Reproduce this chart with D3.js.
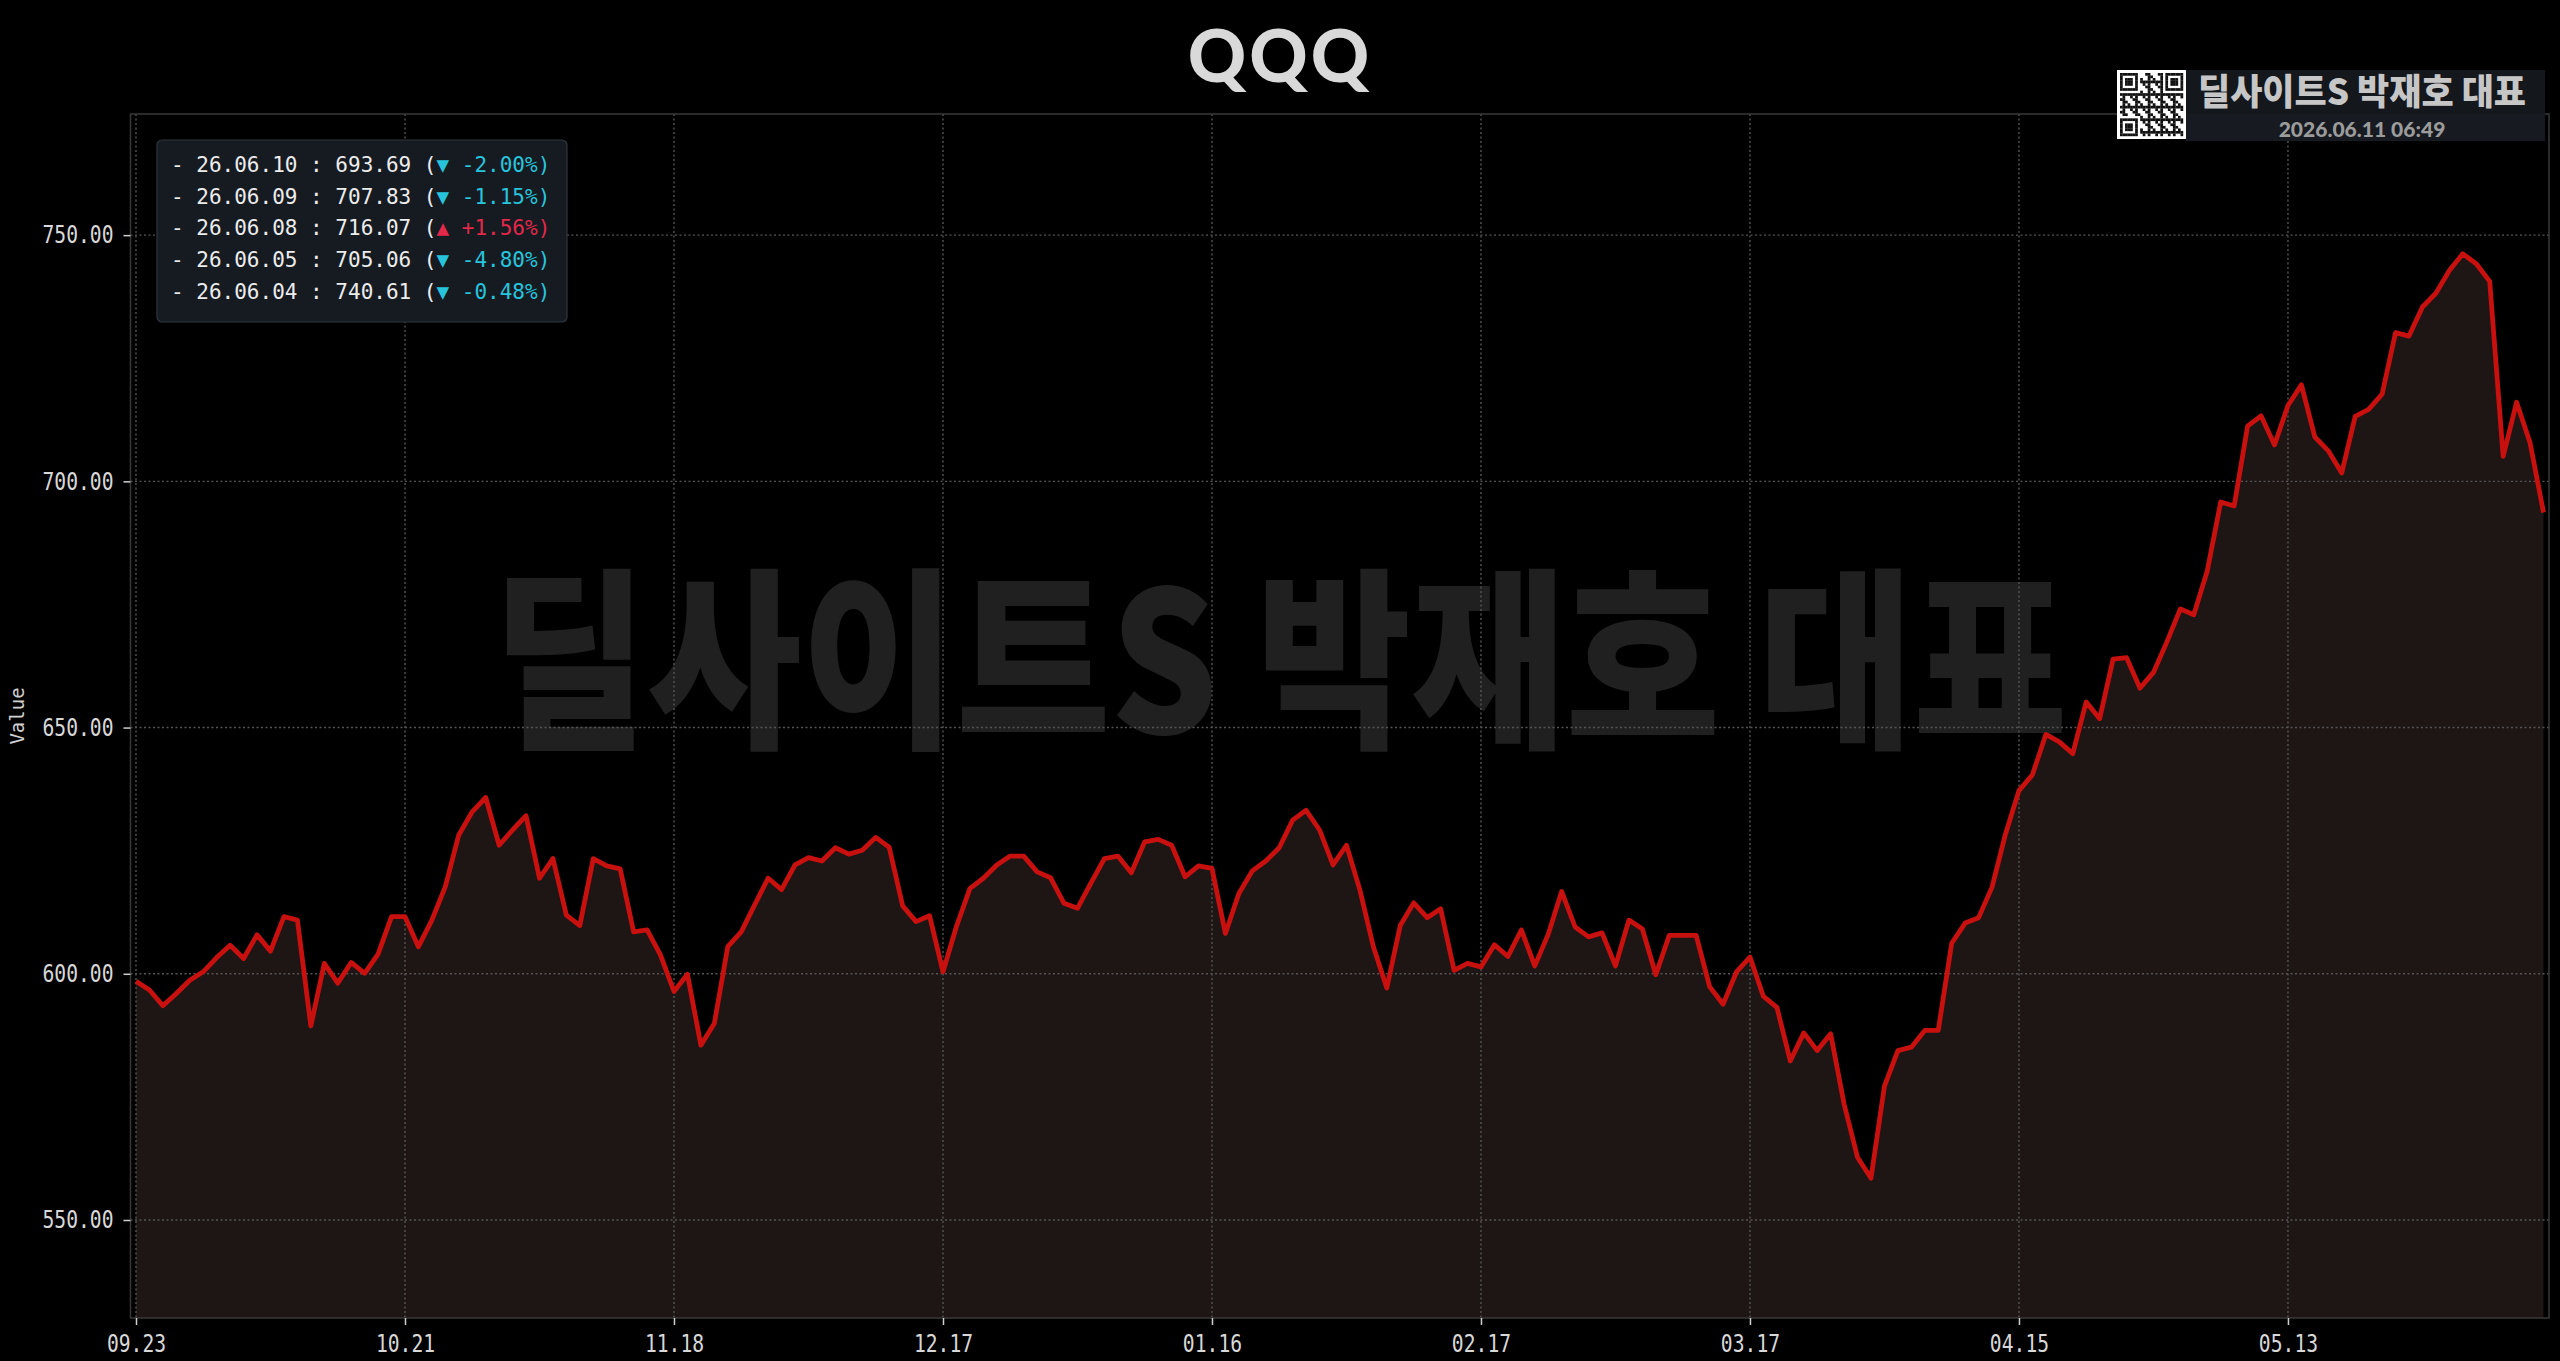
<!DOCTYPE html>
<html><head><meta charset="utf-8">
<script src="https://cdn.jsdelivr.net/npm/d3@7"></script>
<style>html,body{margin:0;padding:0;background:#000;overflow:hidden}text{white-space:pre}</style>
</head><body>
<svg id="c" width="2560" height="1361"></svg>
<script>
const chartTitle = "QQQ";
const values = [
598.5,596.7,593.5,596.0,598.7,600.4,603.3,605.8,603.1,607.9,
604.6,611.6,610.9,589.4,602.1,598.1,602.3,600.1,604.0,611.6,
611.6,605.5,610.9,617.7,628.2,632.9,635.8,626.1,629.2,632.1,
619.4,623.4,611.9,609.8,623.4,621.9,621.3,608.5,608.9,603.8,
596.4,599.9,585.5,589.9,605.5,608.5,614.0,619.4,617.1,622.1,
623.6,622.9,625.6,624.3,625.1,627.7,625.7,613.8,610.6,611.8,
600.4,609.6,617.3,619.4,622.1,623.9,623.9,620.7,619.5,614.3,
613.3,618.4,623.4,623.9,620.5,626.8,627.3,626.1,619.7,621.9,
621.4,608.2,616.3,620.9,622.9,625.6,631.2,633.2,629.2,622.1,
626.1,617.0,605.5,597.1,609.8,614.4,611.4,613.2,600.7,602.1,
601.4,605.9,603.5,608.9,601.6,608.0,616.7,609.5,607.5,608.3,
601.6,610.9,609.1,599.8,607.8,607.8,607.8,597.4,593.8,600.4,
603.4,595.4,593.2,582.3,588.0,584.4,587.8,573.5,562.7,558.5,
577.2,584.4,585.1,588.5,588.5,606.2,610.3,611.4,617.6,628.4,
637.2,640.4,648.6,647.1,644.7,655.2,651.8,663.9,664.2,658.0,
661.2,667.4,674.1,672.9,681.8,695.8,695.0,711.2,713.3,707.4,
715.4,719.6,709.0,706.2,701.7,713.2,714.6,717.7,730.2,729.5,
735.4,738.2,742.8,746.2,744.2,740.61,705.06,716.07,707.83,693.69
];
const xTickIndex = [0,20,40,60,80,100,120,140,160];
const xTickLabels = ["09.23","10.21","11.18","12.17","01.16","02.17","03.17","04.15","05.13"];
const yTicks = [550,600,650,700,750];
const legendDates = ["26.06.10","26.06.09","26.06.08","26.06.05","26.06.04"];
const legendValues = [693.69,707.83,716.07,705.06,740.61];
const legendChanges = [-2.00,-1.15,1.56,-4.80,-0.48];
const watermarkText = "딜사이트S 박재호 대표";
const stampText = "2026.06.11 06:49";
const yLabel = "Value";

const svg = d3.select("#c");
const L = 130.5, R = 2549, T = 114, B = 1318;
const x = d3.scaleLinear().domain([0, values.length - 1]).range([136, 2543.5]);
const y = d3.scaleLinear().domain([530.1, 774.6]).range([B, T]);
const mono = "'DejaVu Sans Mono', monospace";
const kr = "'Noto Sans CJK KR', sans-serif";
const geo = "Lato, 'Noto Sans', sans-serif";

svg.append("rect").attr("width", 2560).attr("height", 1361).attr("fill", "#000");

// big watermark
svg.append("text").attr("transform", "translate(1280,733) scale(1,1.16)").attr("text-anchor", "middle")
  .attr("font-family", kr).attr("font-weight", 900).attr("font-size", 168)
  .attr("fill", "#202020").text(watermarkText);

// area + line
const area = d3.area().x((d, i) => x(i)).y0(B).y1(d => y(d));
const line = d3.line().x((d, i) => x(i)).y(d => y(d));
svg.append("path").datum(values).attr("d", area).attr("fill", "#1e1515");

// grid
const grid = svg.append("g").attr("stroke", "#555").attr("stroke-width", 1.4).attr("stroke-dasharray", "2,2.5");
grid.selectAll(".gx").data(xTickIndex).join("line")
  .attr("x1", d => x(d)).attr("x2", d => x(d)).attr("y1", T).attr("y2", B);
grid.selectAll(".gy").data(yTicks).join("line")
  .attr("x1", L).attr("x2", R).attr("y1", d => y(d)).attr("y2", d => y(d));

svg.append("path").datum(values).attr("d", line).attr("fill", "none")
  .attr("stroke", "#c8100f").attr("stroke-width", 4.8).attr("stroke-linejoin", "round");

// frame
svg.append("rect").attr("x", L).attr("y", T).attr("width", R - L).attr("height", B - T)
  .attr("fill", "none").attr("stroke", "#383838").attr("stroke-width", 1.5);

// axes
const sx = 0.82;
const ya = svg.append("g").attr("transform", `translate(${L},0)`)
  .call(d3.axisLeft(y).tickValues(yTicks).tickFormat(d3.format(".2f")).tickSize(7).tickPadding(10));
const xa = svg.append("g").attr("transform", `translate(0,${B})`)
  .call(d3.axisBottom(x).tickValues(xTickIndex).tickFormat((d, i) => xTickLabels[i]).tickSize(7).tickPadding(10));
[ya, xa].forEach(a => {
  a.select(".domain").remove();
  a.selectAll(".tick line").attr("stroke", "#cfcfcf").attr("stroke-width", 1.5);
  a.selectAll(".tick text").attr("fill", "#d8d8d8").attr("font-family", mono).attr("font-size", 24)
    .attr("transform", `scale(${sx},1)`);
});
ya.selectAll(".tick text").attr("x", -17 / sx);

svg.append("text").attr("transform", "translate(24,716) rotate(-90)").attr("text-anchor", "middle")
  .attr("font-family", mono).attr("font-size", 19).attr("fill", "#d0d0d0").text(yLabel);

// legend
svg.append("rect").attr("x", 157).attr("y", 140).attr("width", 410).attr("height", 182).attr("rx", 5)
  .attr("fill", "#161b22").attr("stroke", "#30363d").attr("stroke-width", 1.2);
legendDates.forEach((d, i) => {
  const up = legendChanges[i] >= 0;
  const col = up ? "#e3284a" : "#27c4dc";
  const t = svg.append("text").attr("x", 171).attr("y", 172 + i * 31.7)
    .attr("font-family", mono).attr("font-size", 21);
  t.append("tspan").attr("fill", "#ececec").text(`- ${d} : ${legendValues[i].toFixed(2)} (`);
  t.append("tspan").attr("fill", col).text(`${up ? "▲" : "▼"} ${up ? "+" : "-"}${Math.abs(legendChanges[i]).toFixed(2)}%)`);
});

// title
svg.append("text").attr("x", 1280).attr("y", 82).attr("text-anchor", "middle")
  .attr("font-family", geo).attr("font-weight", 900).attr("font-size", 72)
  .attr("letter-spacing", 3).attr("fill", "#d9d9d9").text(chartTitle);

// badge
svg.append("rect").attr("x", 2186).attr("y", 70).attr("width", 359).attr("height", 44).attr("fill", "#14171c");
svg.append("rect").attr("x", 2186).attr("y", 114).attr("width", 359).attr("height", 27).attr("fill", "#171b21");
svg.append("text").attr("transform", "translate(2362,105) scale(1,1.05)").attr("text-anchor", "middle")
  .attr("font-family", kr).attr("font-weight", 900).attr("font-size", 35).attr("fill", "#c6c6c6").text(watermarkText);
svg.append("text").attr("x", 2362).attr("y", 137).attr("text-anchor", "middle")
  .attr("font-family", geo).attr("font-weight", 900).attr("font-size", 21).attr("fill", "#9c9c9c").text(stampText);

// QR-like mark
const qx = 2117, qy = 70, qs = 69, n = 25, m = (qs - 6) / n;
svg.append("rect").attr("x", qx).attr("y", qy).attr("width", qs).attr("height", qs).attr("fill", "#fff");
const cells = [];
const finder = (r, c, r0, c0) => {
  const rr = r - r0, cc = c - c0;
  if (rr < 0 || cc < 0 || rr > 6 || cc > 6) return null;
  const edge = rr === 0 || rr === 6 || cc === 0 || cc === 6;
  const core = rr >= 2 && rr <= 4 && cc >= 2 && cc <= 4;
  return edge || core;
};
for (let r = 0; r < n; r++) for (let c = 0; c < n; c++) {
  let f = finder(r, c, 0, 0); if (f === null) f = finder(r, c, 0, n - 7); if (f === null) f = finder(r, c, n - 7, 0);
  let on;
  if (f !== null) on = f;
  else if ((r === 7 && c < 8) || (c === 7 && r < 8) || (r === 7 && c > n - 9) || (c === n - 8 && r < 8) || (r === n - 8 && c < 8) || (c === 7 && r > n - 9)) on = false;
  else on = ((r * 7 + c * 11 + r * c * 3) % 5) < 2;
  if (on) cells.push([r, c]);
}
svg.append("g").selectAll("rect").data(cells).join("rect")
  .attr("x", d => qx + 3 + d[1] * m).attr("y", d => qy + 3 + d[0] * m)
  .attr("width", m + 0.2).attr("height", m + 0.2).attr("fill", "#111");
</script>
</body></html>
